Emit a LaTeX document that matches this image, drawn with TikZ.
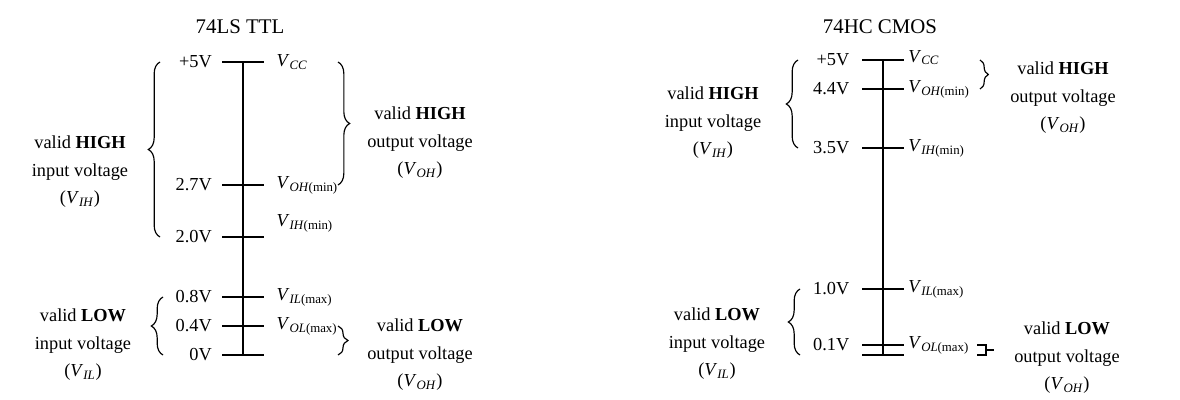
\documentclass[tikz,border=0pt]{standalone}
\usepackage{fontspec}
\setmainfont{Liberation Serif}
\usetikzlibrary{decorations.pathreplacing, positioning}
\newcommand{\vsym}[2]{\textit{V}\textsubscript{\textit{#1}#2}}
\tikzset{
	lvl/.style={font=\fontsize{11}{13}\selectfont, inner sep=0pt},
	rangetxt/.style={font=\fontsize{11}{16.5}\selectfont, align=center},
	famtitle/.style={font=\fontsize{12.5}{15}\selectfont},
	vaxis/.style={line width=1.1pt},
	vtick/.style={line width=1.1pt},
	vbrace/.style={decorate, decoration={brace, amplitude=#1}, line width=0.7pt},
	vbrace/.default=7pt
}

\begin{document}
\begin{tikzpicture}[x=0.6pt, y=0.6pt]
	\useasboundingbox (0,0) rectangle (1180,399);
	% 74LS TTL
	\node[famtitle] (ttl) at (240,372) {74LS TTL};
	\coordinate (l5) at (243,337);
	\coordinate (l27) at (243,214);
	\coordinate (l20) at (243,162);
	\coordinate (l08) at (243,102);
	\coordinate (l04) at (243,73);
	\coordinate (l0) at (243,44);
	\draw[vaxis] (l5) -- (l0);
	\foreach \p in {l5,l27,l20,l08,l04,l0}
		\draw[vtick] (\p) +(-12.5pt,0) -- +(12.5pt,0);
	\node[lvl, left=18.5pt of l5] (l5v) {+5V};
	\node[lvl, left=18.5pt of l27] (l27v) {2.7V};
	\node[lvl, left=18.5pt of l20] (l20v) {2.0V};
	\node[lvl, left=18.5pt of l08] (l08v) {0.8V};
	\node[lvl, left=18.5pt of l04] (l04v) {0.4V};
	\node[lvl, left=18.5pt of l0] (l0v) {0V};
	\node[lvl, right=20pt of l5] (l5n) {\vsym{CC}{}};
	\node[lvl, right=20pt of l27] (l27n) {\vsym{OH}{(min)}};
	\node[lvl, right=20pt of l20, yshift=8pt] (l20n) {\vsym{IH}{(min)}};
	\node[lvl, right=20pt of l08] (l08n) {\vsym{IL}{(max)}};
	\node[lvl, right=20pt of l04] (l04n) {\vsym{OL}{(max)}};
	\draw[vbrace] (160,0 |- l20) -- (160,0 |- l5);
	\draw[vbrace] (338,0 |- l5) -- (338,0 |- l27);
	\draw[vbrace] (163,0 |- l0) -- (163,0 |- l08);
	\draw[vbrace=6pt] (338,0 |- l04) -- (338,0 |- l0);
	\node[rangetxt] (ttlhi) at (80,227) {valid \textbf{HIGH}\\input voltage\\(\vsym{IH}{})};
	\node[rangetxt] (ttlho) at (420,256) {valid \textbf{HIGH}\\output voltage\\(\vsym{OH}{})};
	\node[rangetxt] (ttlli) at (83,54) {valid \textbf{LOW}\\input voltage\\(\vsym{IL}{})};
	\node[rangetxt] (ttllo) at (420,44) {valid \textbf{LOW}\\output voltage\\(\vsym{OH}{})};
	% 74HC CMOS
	\node[famtitle] (cmos) at (880,372) {74HC CMOS};
	\coordinate (c5) at (883,339);
	\coordinate (c44) at (883,310);
	\coordinate (c35) at (883,251);
	\coordinate (c10) at (883,110);
	\coordinate (c01) at (883,54);
	\coordinate (c0) at (883,44);
	\draw[vaxis] (c5) -- (c0);
	\foreach \p in {c5,c44,c35,c10,c01,c0}
		\draw[vtick] (\p) +(-12.5pt,0) -- +(12.5pt,0);
	\node[lvl, left=20pt of c5] (c5v) {+5V};
	\node[lvl, left=20pt of c44] (c44v) {4.4V};
	\node[lvl, left=20pt of c35] (c35v) {3.5V};
	\node[lvl, left=20pt of c10] (c10v) {1.0V};
	\node[lvl, left=20pt of c01] (c01v) {0.1V};
	\node[lvl, right=15pt of c5, yshift=1.5pt] (c5n) {\vsym{CC}{}};
	\node[lvl, right=15pt of c44] (c44n) {\vsym{OH}{(min)}};
	\node[lvl, right=15pt of c35] (c35n) {\vsym{IH}{(min)}};
	\node[lvl, right=15pt of c10] (c10n) {\vsym{IL}{(max)}};
	\node[lvl, right=15pt of c01] (c01n) {\vsym{OL}{(max)}};
	\draw[vbrace] (798,0 |- c35) -- (798,0 |- c5);
	\draw[vbrace=5pt] (980,0 |- c5) -- (980,0 |- c44);
	\draw[vbrace] (800,0 |- c0) -- (800,0 |- c10);
	% tiny bracket for the 0.1V band
	\draw[line width=0.7pt] (977,0 |- c01) -| (986,49) |- (977,0 |- c0);
	\draw[line width=0.7pt] (986,49) -- (994,49);
	\node[rangetxt] (cmoshi) at (713,276) {valid \textbf{HIGH}\\input voltage\\(\vsym{IH}{})};
	\node[rangetxt] (cmosho) at (1063,301) {valid \textbf{HIGH}\\output voltage\\(\vsym{OH}{})};
	\node[rangetxt] (cmosli) at (717,55) {valid \textbf{LOW}\\input voltage\\(\vsym{IL}{})};
	\node[rangetxt] (cmoslo) at (1067,41) {valid \textbf{LOW}\\output voltage\\(\vsym{OH}{})};
\end{tikzpicture}
\end{document}
